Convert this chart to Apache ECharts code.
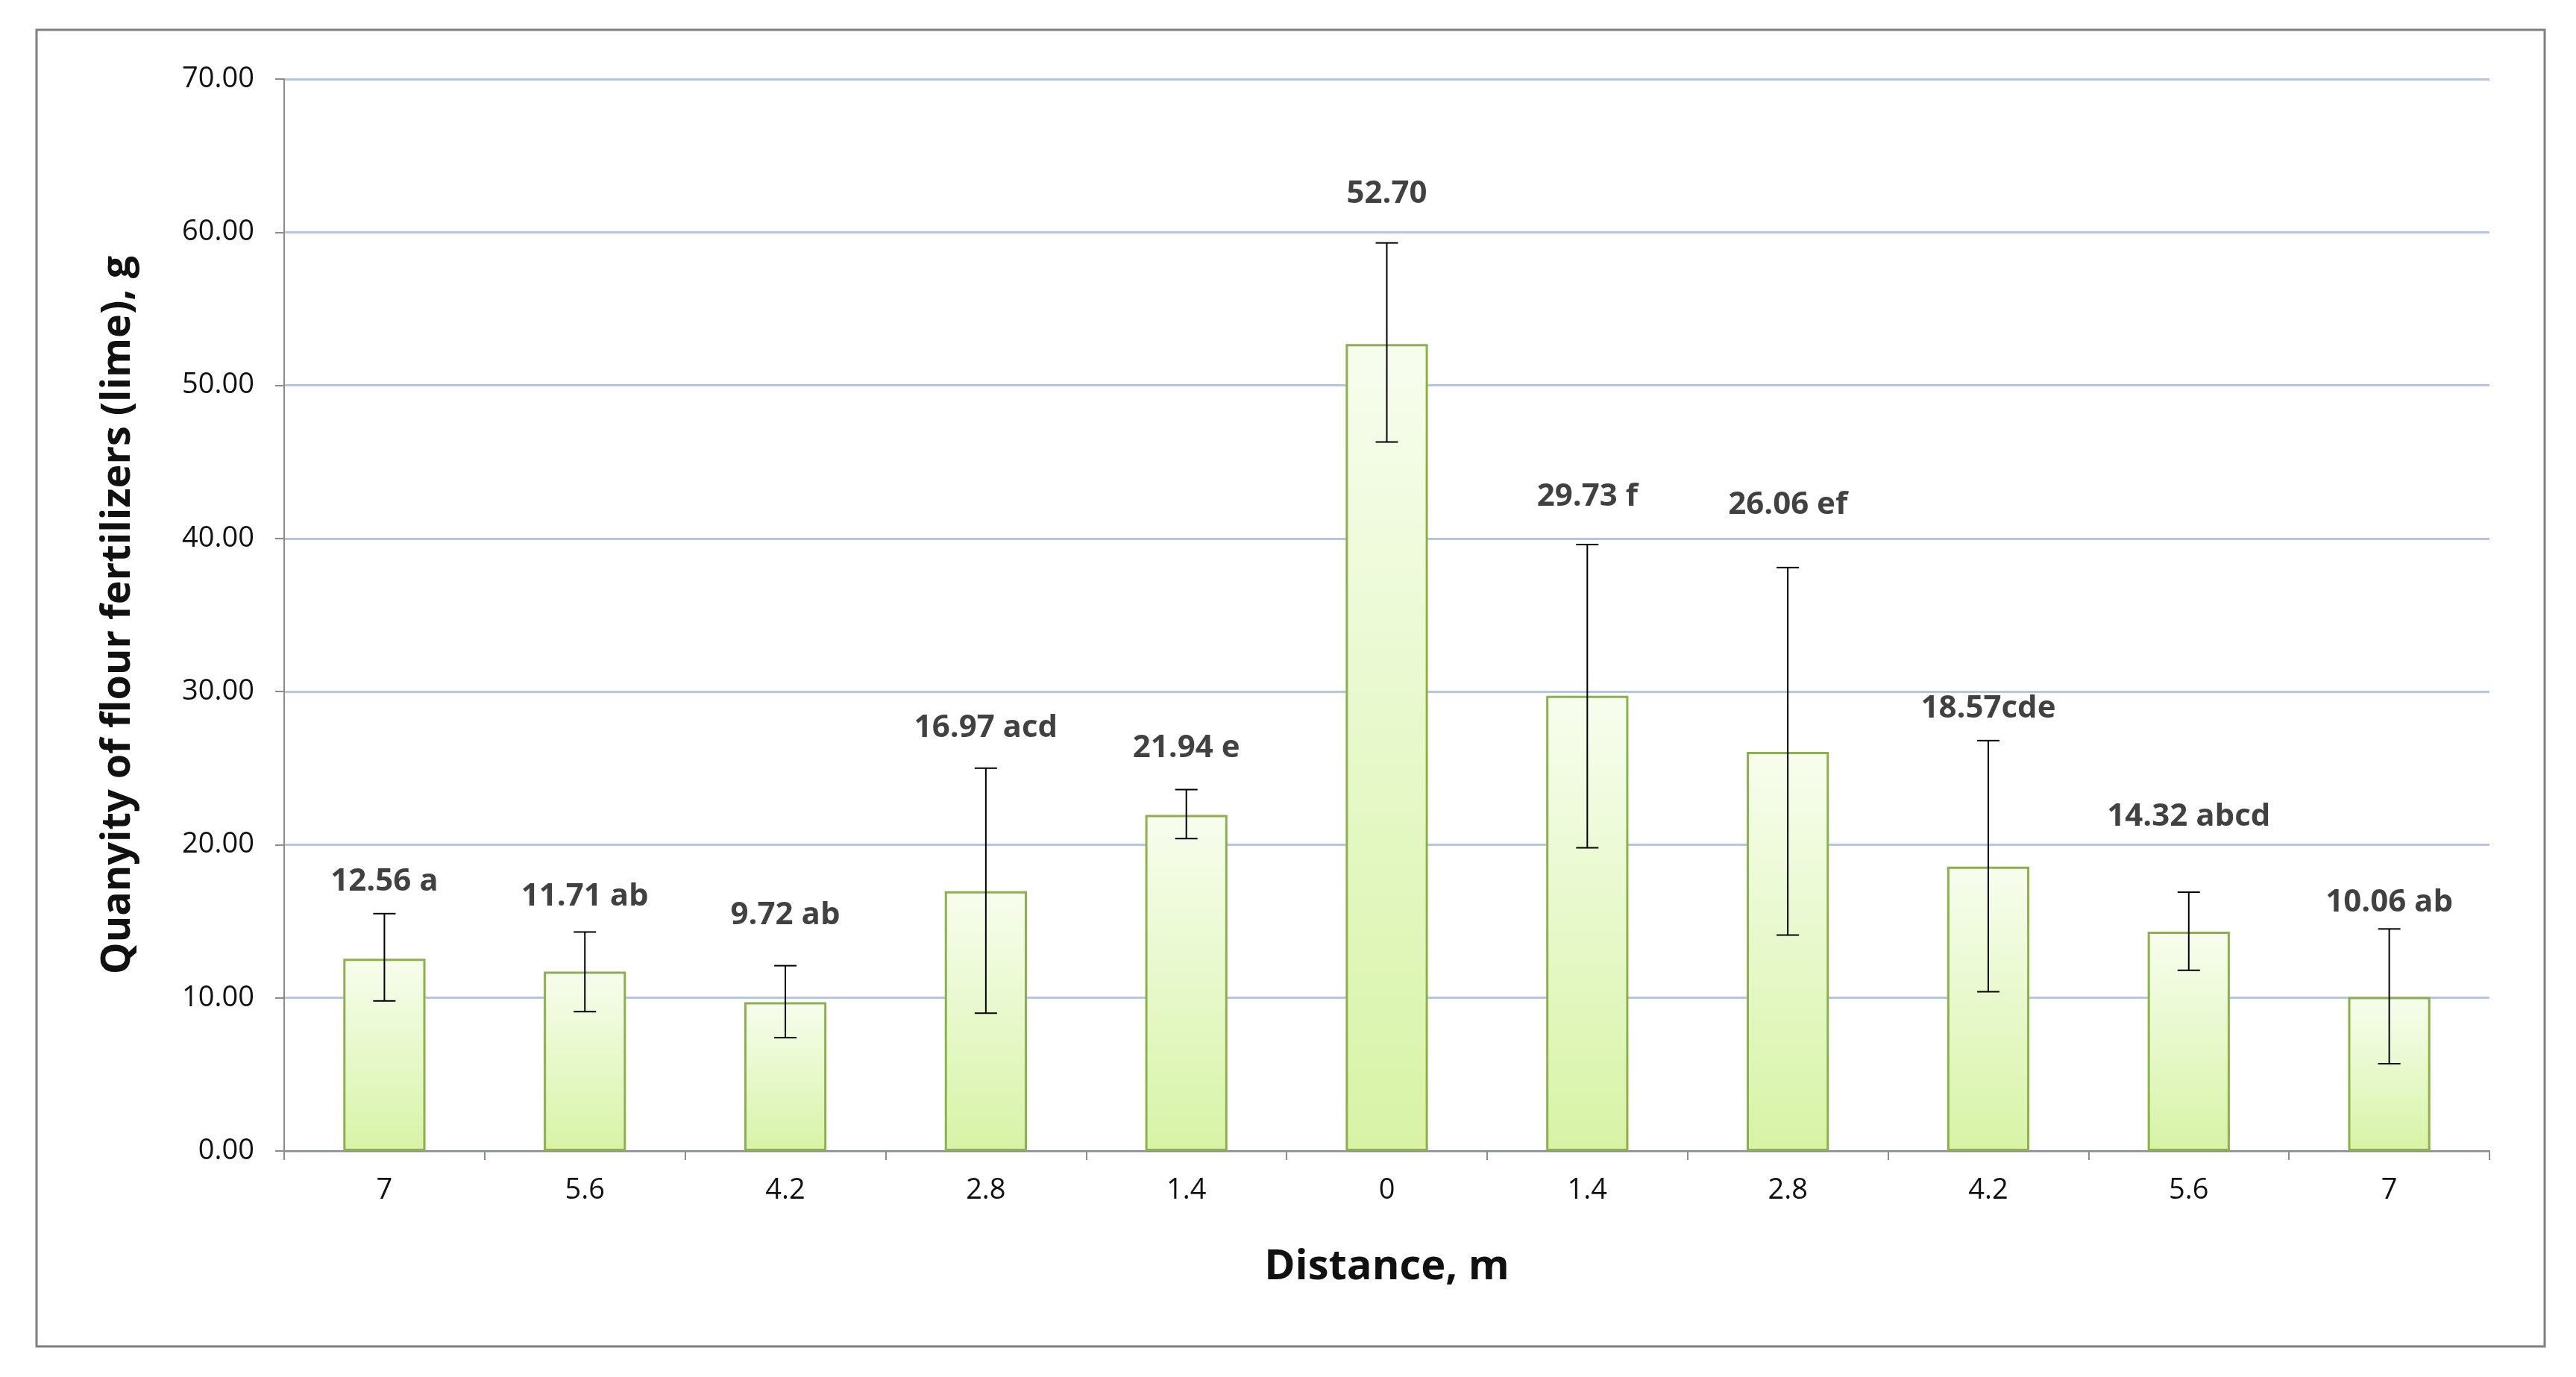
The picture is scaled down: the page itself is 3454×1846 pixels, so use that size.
<!DOCTYPE html>
<html><head><meta charset="utf-8">
<script src="https://cdn.jsdelivr.net/npm/echarts@6/dist/echarts.min.js"></script>
<style>html,body{margin:0;padding:0;background:#fff}#c{width:3454px;height:1846px}</style>
</head><body><div id="c"></div>
<script>
const categories = ['7','5.6','4.2','2.8','1.4','0','1.4','2.8','4.2','5.6','7'];
const values = [12.56,11.71,9.72,16.97,21.94,52.70,29.73,26.06,18.57,14.32,10.06];
const errHigh = [15.5,14.3,12.1,25.0,23.6,59.3,39.6,38.1,26.8,16.9,14.5];
const errLow = [9.8,9.1,7.4,9.0,20.4,46.3,19.8,14.1,10.4,11.8,5.7];
const labels = ['12.56 a','11.71 ab','9.72 ab','16.97 acd','21.94 e','52.70','29.73 f','26.06 ef','18.57cde','14.32 abcd','10.06 ab'];
const labelY = [17.6,16.6,15.4,27.6,26.3,62.5,42.7,42.2,28.9,21.8,16.2];
const yTicks = {min:0,max:70,interval:10};

const font = 'Open Sans';
const chart = echarts.init(document.getElementById('c'));
chart.setOption({
  animation:false,
  backgroundColor:'#fff',
  graphic:[{type:'rect',shape:{x:49,y:40,width:3363,height:1765},style:{fill:'none',stroke:'#7f7f7f',lineWidth:3},z:-1}],
  grid:{left:381,right:116,top:106,bottom:303},
  xAxis:{type:'category',data:categories,
    name:'Distance, m',nameLocation:'middle',nameGap:128,
    nameTextStyle:{fontFamily:font,fontWeight:'bold',fontSize:56,color:'#111'},
    axisLine:{lineStyle:{color:'#8c8c8c',width:2}},
    axisTick:{show:true,length:12,lineStyle:{color:'#8c8c8c',width:2}},
    axisLabel:{fontFamily:font,fontSize:38,color:'#111',margin:34}},
  yAxis:{type:'value',min:yTicks.min,max:yTicks.max,interval:yTicks.interval,
    name:'Quanyity of flour fertilizers (lime), g',nameLocation:'middle',nameGap:195,
    nameTextStyle:{fontFamily:font,fontWeight:'bold',fontSize:54,color:'#111'},
    axisLine:{show:true,lineStyle:{color:'#8c8c8c',width:2}},
    axisTick:{show:true,length:12,lineStyle:{color:'#8c8c8c',width:2}},
    axisLabel:{fontFamily:font,fontSize:38,color:'#111',margin:40,formatter:v=>v.toFixed(2)},
    splitLine:{lineStyle:{color:'#b4c6e7',width:3}}},
  series:[
    {type:'bar',data:values,barWidth:'41%',
     itemStyle:{borderColor:'#8cb04c',borderWidth:3,
       color:new echarts.graphic.LinearGradient(0,0,0,1,[{offset:0,color:'#f7fdee'},{offset:1,color:'#d7f3a6'}])}},
    {type:'custom',z:10,data:values.map((v,i)=>[i,errLow[i],errHigh[i]]),
     renderItem:(params,api)=>{
       const lo=api.coord([api.value(0),api.value(1)]);
       const hi=api.coord([api.value(0),api.value(2)]);
       const w=15, st={stroke:'#000',lineWidth:2};
       return {type:'group',children:[
         {type:'line',shape:{x1:lo[0],y1:lo[1],x2:hi[0],y2:hi[1]},style:st},
         {type:'line',shape:{x1:lo[0]-w,y1:lo[1],x2:lo[0]+w,y2:lo[1]},style:st},
         {type:'line',shape:{x1:hi[0]-w,y1:hi[1],x2:hi[0]+w,y2:hi[1]},style:st}]};
     }},
    {type:'scatter',symbolSize:0,z:11,data:labelY.map((v,i)=>[i,v]),
     label:{show:true,position:'inside',formatter:p=>labels[p.dataIndex],
       fontFamily:font,fontWeight:'bold',fontSize:42,color:'#111'}}
  ]
});
</script></body></html>
